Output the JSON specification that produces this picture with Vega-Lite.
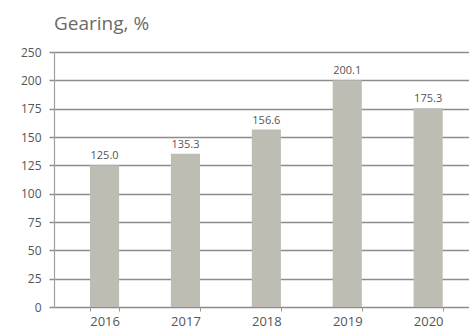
{
  "$schema": "https://vega.github.io/schema/vega-lite/v6.json",
  "width": 415,
  "height": 255,
  "autosize": {"type": "none"},
  "padding": {"left": 54, "top": 52, "right": 0, "bottom": 21},
  "background": "white",
  "title": {
    "text": "Gearing, %",
    "anchor": "start",
    "frame": "group",
    "font": "Open Sans",
    "fontSize": 19,
    "fontWeight": "normal",
    "color": "#6a6a6a",
    "baseline": "alphabetic",
    "offset": -3
  },
  "config": {
    "view": {"stroke": null},
    "font": "Open Sans"
  },
  "data": {
    "values": [
      {"year": "2016", "gearing": 125.0},
      {"year": "2017", "gearing": 135.3},
      {"year": "2018", "gearing": 156.6},
      {"year": "2019", "gearing": 200.1},
      {"year": "2020", "gearing": 175.3}
    ]
  },
  "encoding": {
    "x": {
      "field": "year",
      "type": "nominal",
      "sort": null,
      "scale": {"paddingInner": 0.64, "paddingOuter": 0.385, "align": 0.578},
      "axis": {
        "title": null,
        "labelAngle": 0,
        "labelFont": "Open Sans",
        "labelFontSize": 13,
        "labelColor": "#555555",
        "labelPadding": 4,
        "domain": false,
        "ticks": true,
        "tickBand": "extent",
        "tickSize": 4,
        "tickColor": "#999999",
        "grid": false
      }
    },
    "y": {
      "field": "gearing",
      "type": "quantitative",
      "scale": {"domain": [0, 225], "nice": false, "zero": true},
      "axis": {
        "title": null,
        "values": [0, 25, 50, 75, 100, 125, 150, 175, 200, 225],
        "labelExpr": "datum.value == 225 ? '250' : datum.label",
        "labelFont": "Open Sans",
        "labelFontSize": 12,
        "labelColor": "#555555",
        "labelPadding": 8,
        "grid": true,
        "gridColor": "#8c8c8c",
        "gridWidth": 1.5,
        "domain": true,
        "domainColor": "#a0a0a0",
        "domainWidth": 1.2,
        "ticks": true,
        "tickSize": 5,
        "tickColor": "#8c8c8c",
        "tickWidth": 1.5
      }
    }
  },
  "layer": [
    {
      "mark": {"type": "bar", "color": "#bdbdb4"}
    },
    {
      "mark": {"type": "text", "dy": -9, "font": "Open Sans", "fontSize": 11, "color": "#555555"},
      "encoding": {
        "text": {"field": "gearing", "type": "quantitative", "format": ".1f"}
      }
    }
  ]
}
